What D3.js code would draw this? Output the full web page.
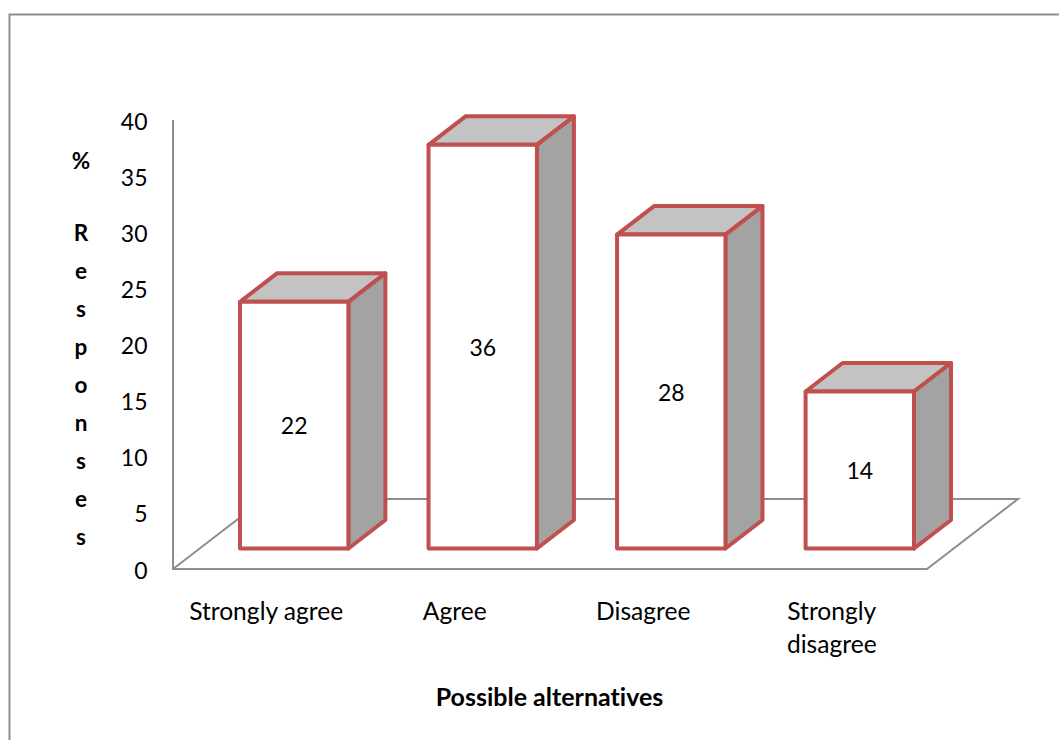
<!DOCTYPE html>
<html><head><meta charset="utf-8">
<script src="https://cdn.jsdelivr.net/npm/d3@7"></script>
<style>html,body{margin:0;padding:0;background:#fff}svg{display:block}text{font-family:Lato,"Open Sans",sans-serif;fill:#000;font-variant-ligatures:none}</style>
</head><body><svg id="c" width="1059" height="740"></svg>
<script>
const categories = ["Strongly agree","Agree","Disagree","Strongly disagree"];
const categoryLines = [["Strongly agree"],["Agree"],["Disagree"],["Strongly","disagree"]];
const values = [22,36,28,14];
const yTicks = [0,5,10,15,20,25,30,35,40];
const yTitleLetters = ["%","","R","e","s","p","o","n","s","e","s"];
const xTitle = "Possible alternatives";

const svg = d3.select("#c");
const gray = "#8E8E8E", red = "#C0504D";
const y = d3.scaleLinear().domain([0,40]).range([569,120]);
const x = d3.scaleBand().domain(categories).range([240,914]).paddingInner(0.425).paddingOuter(0);
const baseY = 548.5, dx = 37, dy = 28.5;
const barY = d3.scaleLinear().domain([0,40]).range([baseY, baseY-448.5]);

// frame
svg.append("path").attr("d","M9.5,740V14.5H1059").attr("fill","none").attr("stroke",gray).attr("stroke-width",2);

// floor and wall axis
const floorX0 = 173, floorX1 = 927, floorDX = 91, floorDY = 70;
svg.append("path")
  .attr("d",`M${floorX0},${y(40)}V${y(0)}H${floorX1}L${floorX1+floorDX},${y(0)-floorDY}H${floorX0+floorDX}L${floorX0},${y(0)}`)
  .attr("fill","none").attr("stroke",gray).attr("stroke-width",2);

// y tick labels
svg.append("g").selectAll("text").data(yTicks).join("text")
  .attr("x",147.5).attr("y",d=>y(d)+1.5).attr("dy","0.35em").attr("text-anchor","end")
  .attr("font-size",23).text(d=>d);

// bars
const bars = svg.append("g").selectAll("g").data(values).join("g");
const xOf = (d,i)=>x(categories[i]);
const w = x.bandwidth();
const face = sel => sel.attr("stroke",red).attr("stroke-width",4).attr("stroke-linejoin","round");
bars.append("path").call(face).attr("fill","#C3C3C3")
  .attr("d",(d,i)=>{const a=xOf(d,i),t=barY(d);return `M${a},${t}l${dx},${-dy}h${w}l${-dx},${dy}Z`;});
bars.append("path").call(face).attr("fill","#A3A3A3")
  .attr("d",(d,i)=>{const a=xOf(d,i)+w,t=barY(d);return `M${a},${t}l${dx},${-dy}V${baseY-dy}L${a},${baseY}Z`;});
bars.append("rect").call(face).attr("fill","#fff")
  .attr("x",(d,i)=>xOf(d,i)).attr("y",d=>barY(d)).attr("width",w).attr("height",d=>baseY-barY(d));
bars.append("text").attr("x",(d,i)=>xOf(d,i)+w/2).attr("y",d=>(barY(d)+baseY)/2+1)
  .attr("dy","0.35em").attr("text-anchor","middle").attr("font-size",23).text(d=>d);

// category labels
svg.append("g").selectAll("text").data(categoryLines).join("text")
  .attr("text-anchor","middle").attr("font-size",24.6)
  .each(function(lines,i){
    d3.select(this).selectAll("tspan").data(lines).join("tspan")
      .attr("x",x(categories[i])+w/2-28).attr("y",(l,j)=>619.5+j*33).text(l=>l);
  });

// titles
svg.append("g").selectAll("text").data(yTitleLetters).join("text")
  .attr("x",81).attr("y",(d,i)=>i===0?161:233.5+(i-2)*38).attr("dy","0.35em")
  .attr("text-anchor","middle").attr("font-size",22.5).attr("font-weight",700).text(d=>d);
svg.append("text").attr("x",549.5).attr("y",705.5).attr("text-anchor","middle")
  .attr("font-size",25).attr("font-weight",700).text(xTitle);
</script></body></html>
